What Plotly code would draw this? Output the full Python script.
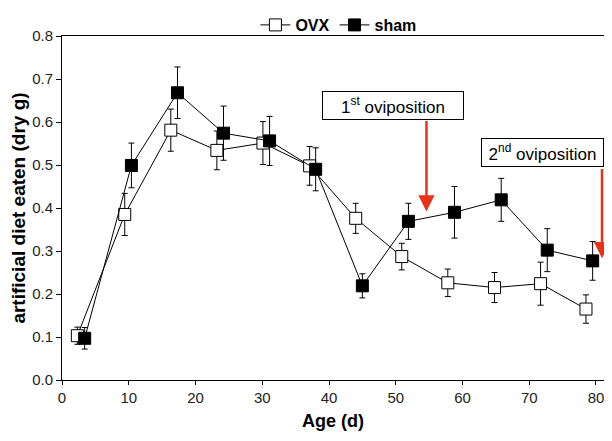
import plotly.graph_objects as go

# data
ovx_age = [2.3, 9.4, 16.3, 23.2, 30.1, 37.1, 44.0, 50.9, 57.8, 64.8, 71.7, 78.5]
ovx_val = [0.103, 0.385, 0.581, 0.534, 0.551, 0.498, 0.376, 0.287, 0.226, 0.215, 0.224, 0.165]
ovx_err = [0.02, 0.049, 0.049, 0.045, 0.05, 0.045, 0.035, 0.031, 0.032, 0.035, 0.05, 0.033]

sham_age = [3.4, 10.4, 17.3, 24.2, 31.1, 38.0, 45.0, 51.9, 58.8, 65.8, 72.7, 79.5]
sham_val = [0.097, 0.499, 0.668, 0.574, 0.556, 0.49, 0.219, 0.369, 0.39, 0.419, 0.302, 0.277]
sham_err = [0.025, 0.052, 0.06, 0.063, 0.057, 0.05, 0.028, 0.042, 0.06, 0.05, 0.05, 0.045]

events = ["1<sup>st</sup> oviposition", "2<sup>nd</sup> oviposition"]
event_age = [54.6, 80.9]
event_tip = [0.392, 0.283]
event_from = [0.606, 0.494]
box_x = [49.6, 72.0]
box_y = [0.638, 0.528]

font = "Arial, Liberation Sans, sans-serif"

fig = go.Figure()
fig.add_trace(go.Scatter(
    x=ovx_age, y=ovx_val, name="OVX", mode="lines+markers",
    line=dict(color="black", width=1),
    marker=dict(symbol="square", size=12, color="white", line=dict(color="black", width=1)),
    error_y=dict(type="data", array=ovx_err, color="black", thickness=1, width=3),
))
fig.add_trace(go.Scatter(
    x=sham_age, y=sham_val, name="sham", mode="lines+markers",
    line=dict(color="black", width=1),
    marker=dict(symbol="square", size=12, color="black", line=dict(color="black", width=1)),
    error_y=dict(type="data", array=sham_err, color="black", thickness=1, width=3),
))

# red arrows (no text, just the arrow)
for i in range(len(events)):
    fig.add_annotation(
        x=event_age[i], y=event_tip[i], ax=event_age[i], ay=event_from[i],
        xref="x", yref="y", axref="x", ayref="y", text="",
        showarrow=True, arrowhead=2, arrowsize=1.3, arrowwidth=2.5, arrowcolor="#e8321a",
    )
widths = [140, 121]
for i in range(len(events)):
    fig.add_annotation(
        x=box_x[i], y=box_y[i], xref="x", yref="y", text=events[i], showarrow=False,
        font=dict(family=font, size=17, color="black"),
        bgcolor="white", bordercolor="black", borderwidth=1, borderpad=0,
        width=widths[i], height=27,
    )

# page has an 8px body margin, so the figure is a bit smaller than the window
fig.update_layout(
    width=604, height=433,
    margin=dict(l=54, r=8, t=28, b=61, autoexpand=False),
    plot_bgcolor="white", paper_bgcolor="white",
    font=dict(family=font, size=15, color="#222"),
    showlegend=True,
    legend=dict(orientation="h", x=0.51, xanchor="center", y=1.0814, yanchor="top",
                font=dict(family=font, size=16, color="black", weight="bold"),
                itemwidth=30, tracegroupgap=0, bgcolor="rgba(0,0,0,0)"),
    xaxis=dict(range=[0, 81.2], dtick=10, tick0=0, showgrid=False, zeroline=False,
               showline=True, linecolor="black", linewidth=1, mirror=True, automargin=False,
               ticks="outside", ticklen=4, tickcolor="black",
               title=dict(text="<b>Age (d)</b>", font=dict(size=18, color="black"), standoff=9)),
    yaxis=dict(range=[0, 0.8], dtick=0.1, tickformat=".1f", showgrid=False, zeroline=False,
               showline=True, linecolor="black", linewidth=1, mirror=True, automargin=False,
               ticks="outside", ticklen=5, tickcolor="black",
               title=dict(text="<b>artificial diet eaten (dry g)</b>", font=dict(size=19, color="black"), standoff=3)),
)

fig.write_html("out.html")
